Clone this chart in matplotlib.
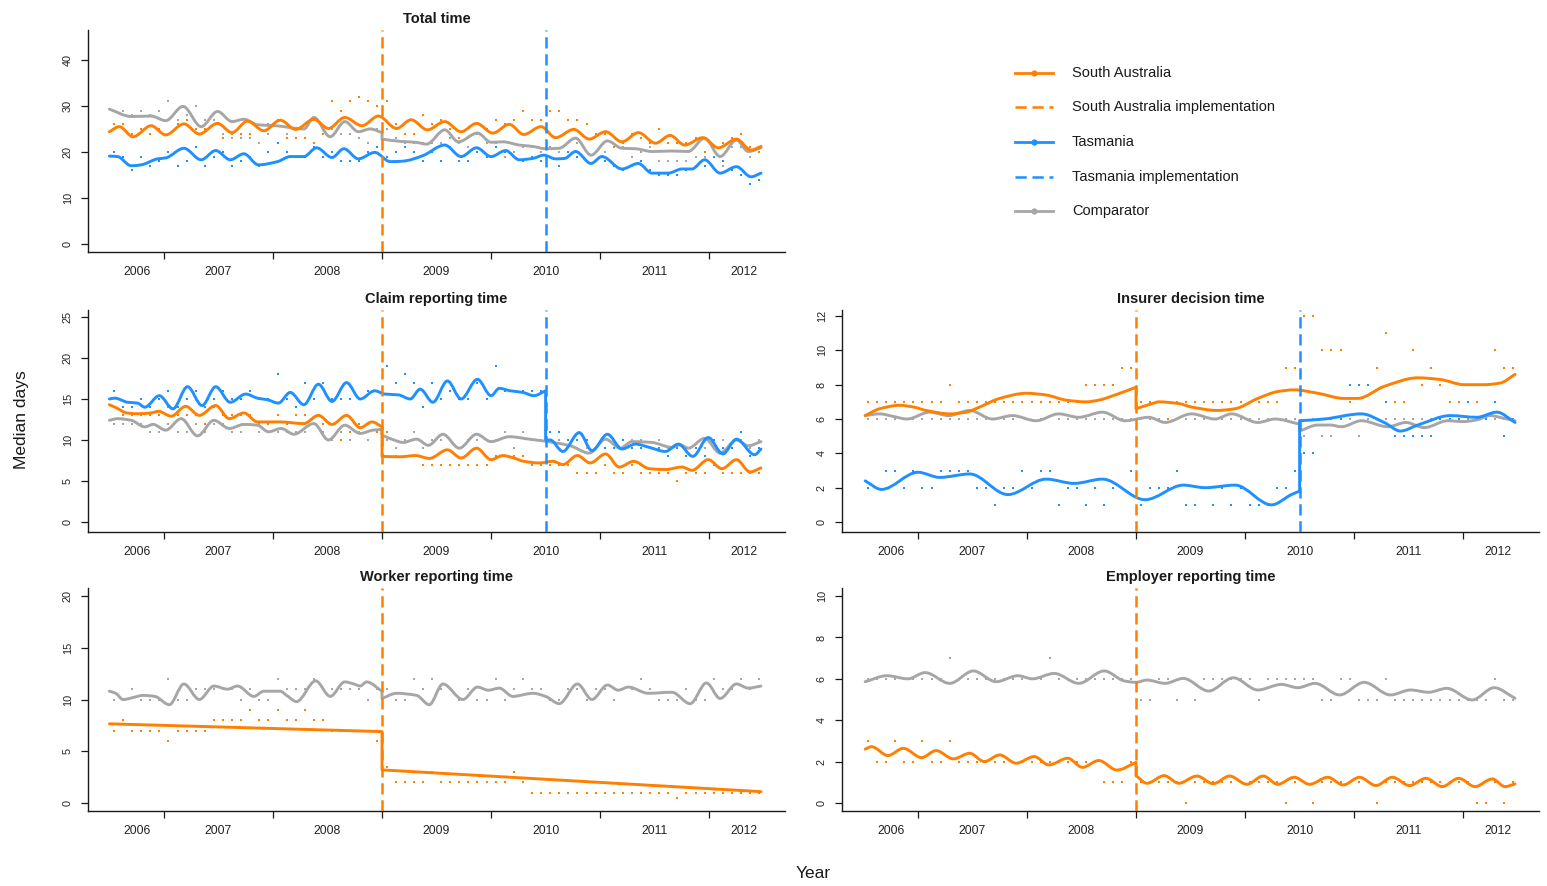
import numpy as np
import matplotlib
matplotlib.use('Agg')
import matplotlib.pyplot as plt
from matplotlib.path import Path
from matplotlib.patches import PathPatch

plt.rcParams['font.family'] = ['Liberation Sans', 'DejaVu Sans']

SA_COL = '#FF7F00'
TAS_COL = '#1E90FF'
CMP_COL = '#A6A6A6'

# monthly medians run Jul 2006 .. Jun 2012 (month 0 = Jul 2006)
n_months = 72
sa_impl = 2009.0
tas_impl = 2010.5
year_ticks = [2007, 2008, 2009, 2010, 2011, 2012]
year_labels = ['2006', '2007', '2008', '2009', '2010', '2011', '2012']
year_label_pos = [2006.75, 2007.5, 2008.5, 2009.5, 2010.5, 2011.5, 2012.32]

# ---- Total time ----
total_sa_dots = [26, 26, 24, 25, 24, 25, 24, 26, 27, 25, 25, 26,
                 23, 24, 24, 24, 25, 26, 27, 23, 23, 23, 22, 24,
                 31, 29, 31, 32, 31, 30, 31, 26, 24, 24, 28, 26,
                 27, 25, 23, 23, 26, 25, 27, 26, 27, 29, 27, 27,
                 29, 29, 27, 27, 26, 24, 24, 21, 22, 24, 23, 22,
                 25, 22, 22, 22, 23, 20, 21, 22, 23, 24, 21, 20]
total_tas_dots = [20, 19, 16, 19, 17, 18, 20, 17, 18, 21, 17, 19,
                  20, 17, 18, 19, 17, 20, 22, 20, 19, 19, 21, 19,
                  20, 18, 18, 18, 20, 21, 19, 20, 21, 20, 18, 20,
                  18, 21, 18, 18, 20, 19, 21, 20, 19, 18, 19, 18,
                  19, 17, 20, 19, 18, 20, 18, 17, 16, 17, 18, 16,
                  15, 15, 15, 16, 17, 17, 19, 18, 16, 15, 13, 14]
total_cmp_dots = [29, 29, 28, 29, 28, 29, 31, 27, 28, 30, 27, 27,
                  24, 23, 23, 23, 22, 24, 27, 24, 25, 26, 27, 24,
                  25, 24, 24, 23, 22, 25, 25, 23, 22, 22, 22, 22,
                  22, 23, 22, 21, 24, 22, 22, 19, 20, 21, 21, 20,
                  21, 20, 22, 22, 20, 20, 20, 17, 21, 19, 20, 21,
                  18, 18, 18, 18, 19, 19, 19, 17, 21, 21, 19, 21]

total_sa_m = [-0.5, 0.6, 2.1, 4.1, 5.7, 7.7, 9.4, 11.4, 13.0, 14.7, 16.5, 18.3, 20.0, 22.0,
              23.6, 25.4, 27.3, 29.1, 31.1, 32.7, 34.5, 36.4, 38.2, 39.9, 41.7, 43.5, 45.1,
              47.0, 48.6, 50.6, 52.3, 54.1, 55.9, 57.7, 59.6, 61.2, 62.8, 64.8, 66.5, 68.5,
              70.1, 71.2]
total_sa_v = [24.4, 25.5, 23.3, 25.7, 23.7, 26.1, 23.9, 26.2, 24.2, 26.7, 24.6, 26.9, 24.9, 27.1,
              25.1, 27.5, 25.7, 27.8, 25.1, 27.0, 24.8, 26.6, 24.4, 26.2, 24.1, 26.0, 23.8,
              25.5, 23.1, 24.9, 22.8, 24.4, 22.2, 24.2, 21.9, 23.6, 21.5, 23.1, 20.9, 22.8,
              20.4, 21.2]
total_tas_m = [-0.5, 0.4, 1.9, 3.0, 4.8, 5.7, 7.7, 9.6, 11.2, 12.8, 14.3, 15.9, 18.0, 19.4,
               20.9, 22.3, 24.0, 25.3, 26.9, 28.7, 30.4, 31.8, 34.0, 36.4, 38.2, 39.9, 41.5,
               43.1, 44.6, 46.1, 47.3, 48.6, 49.6, 50.8, 52.5, 53.7, 55.9, 57.7, 59.2, 61.0,
               62.5, 63.6, 65.0, 66.7, 68.5, 70.1, 71.2]
total_tas_v = [19.1, 19.0, 17.0, 17.2, 18.5, 18.7, 20.8, 18.3, 20.3, 18.3, 19.6, 17.2, 17.9, 19.0,
               19.0, 20.9, 18.8, 20.7, 18.5, 19.9, 17.9, 18.0, 19.2, 21.5, 19.0, 20.9, 19.0,
               20.3, 18.3, 18.6, 19.3, 18.5, 18.6, 20.1, 17.5, 19.0, 16.3, 17.5, 15.4, 15.4,
               16.3, 16.3, 18.3, 15.4, 16.8, 14.6, 15.4]
total_cmp_m = [-0.5, 1.9, 4.1, 5.7, 7.6, 9.6, 11.4, 13.0, 14.3, 15.8, 17.8, 20.9, 22.0, 23.8,
               25.4, 26.9, 28.2, 29.5, 29.5, 31.5, 33.2, 34.4, 36.4, 37.9, 40.0, 41.5, 42.8,
               44.6, 46.1, 47.5, 49.0, 50.8, 52.5, 54.3, 55.9, 57.4, 59.2, 61.4, 63.2, 65.0,
               66.7, 68.5, 69.8, 71.2]
total_cmp_v = [29.3, 27.7, 27.8, 26.8, 29.9, 25.5, 28.8, 26.6, 27.1, 25.9, 25.7, 25.0, 27.5, 23.3,
               26.6, 24.4, 25.0, 24.2, 22.8, 22.3, 22.1, 21.7, 24.8, 22.2, 24.1, 22.1, 22.2,
               21.5, 21.2, 20.7, 20.8, 23.0, 19.3, 22.4, 20.8, 20.7, 20.1, 20.2, 20.1, 23.0,
               19.0, 22.6, 20.1, 20.9]

# ---- Claim reporting time ----
claim_sa_dots = [14, 13, 13, 13, 13, 13, 14, 13, 13, 13, 12, 14,
                 13, 13, 13, 13, 12, 12, 13, 12, 13, 13, 12, 12,
                 12, 10, 11, 12, 12, 11, 11, 8, 8, 8, 7, 7,
                 7, 7, 7, 7, 7, 7, 8, 8, 8, 8, 7, 7,
                 7, 7, 7, 6, 6, 6, 7, 6, 6, 7, 6, 6,
                 6, 6, 5, 6, 6, 6, 7, 6, 6, 6, 6, 6]
claim_tas_dots = [16, 14, 14, 15, 14, 15, 16, 14, 15, 16, 14, 15,
                  16, 15, 15, 16, 15, 15, 18, 15, 14, 17, 15, 17,
                  15, 15, 15, 15, 16, 16, 19, 17, 18, 17, 14, 17,
                  15, 16, 15, 15, 17, 15, 19, 16, 16, 16, 16, 16,
                  11, 11, 10, 10, 10, 9, 9, 9, 10, 9, 9, 9,
                  9, 8, 9, 8, 9, 8, 10, 9, 9, 11, 8, 9]
claim_cmp_dots = [12, 12, 12, 12, 11, 11, 12, 11, 11, 12, 11, 12,
                  12, 11, 11, 12, 11, 11, 11, 11, 11, 11, 12, 11,
                  10, 11, 10, 11, 10, 11, 10, 9, 10, 11, 9, 10,
                  10, 10, 9, 10, 10, 10, 10, 11, 9, 11, 10, 10,
                  11, 10, 10, 9, 9, 9, 9, 10, 9, 10, 10, 9,
                  10, 9, 9, 9, 9, 9, 10, 10, 9, 10, 9, 10]

claim_sa_m = [-0.5, 0.3, 1.4, 2.6, 4.1, 4.9, 6.3, 7.9, 9.4, 11.2, 12.7, 14.3, 15.8, 18.3, 20.9,
              22.5, 24.0, 25.6, 27.1, 28.4, 29.5, 29.5, 31.5, 33.2, 34.7, 36.7, 38.2, 39.9,
              41.5, 42.8, 44.0, 45.1, 46.8, 48.3, 49.4, 51.0, 52.4, 54.1, 55.6, 57.2, 58.9,
              60.7, 62.5, 63.6, 65.4, 66.9, 68.5, 70.0, 71.2]
claim_sa_v = [14.3, 13.9, 13.3, 13.2, 13.3, 13.5, 12.9, 14.1, 13.0, 14.2, 12.6, 13.3, 12.2, 12.2,
              12.0, 13.0, 11.9, 13.0, 11.5, 12.2, 11.6, 8.0, 7.95, 8.1, 7.75, 8.8, 7.8, 9.0,
              7.6, 8.1, 7.8, 7.4, 7.2, 7.4, 7.0, 8.1, 7.2, 8.3, 6.7, 7.4, 6.5, 6.4, 6.7, 6.3,
              7.6, 6.5, 7.6, 6.1, 6.6]
claim_tas_m = [-0.5, 0.1, 1.5, 2.6, 3.4, 5.0, 6.5, 8.1, 9.7, 11.2, 12.8, 14.5, 15.8, 16.9, 18.1,
               19.4, 20.9, 22.5, 24.0, 25.6, 27.1, 28.7, 29.8, 31.3, 32.6, 33.7, 35.1, 36.7,
               38.2, 40.0, 41.5, 42.4, 43.6, 45.0, 46.2, 47.5, 47.5, 48.0, 49.4, 51.2, 52.6,
               54.3, 55.9, 57.4, 58.9, 60.7, 62.1, 63.7, 65.4, 67.0, 68.5, 70.5, 71.2]
claim_tas_v = [15.0, 15.1, 14.6, 14.5, 14.0, 15.4, 13.8, 16.5, 14.2, 16.5, 14.6, 15.6, 15.1,
               14.9, 14.5, 15.8, 14.3, 16.8, 14.7, 17.0, 15.0, 16.0, 15.6, 15.5, 15.0, 16.2,
               14.6, 17.2, 15.0, 17.4, 15.4, 16.3, 16.0, 15.8, 15.4, 16.0, 10.0, 10.0, 8.6,
               10.9, 8.7, 10.7, 8.9, 9.5, 9.1, 8.6, 9.5, 8.0, 10.3, 8.3, 10.1, 8.2, 8.9]
claim_cmp_m = [-0.5, 0.4, 1.9, 3.4, 4.3, 5.7, 7.4, 9.2, 11.0, 12.7, 14.3, 15.8, 17.0, 18.4,
               19.8, 22.0, 23.6, 25.4, 27.1, 28.5, 29.5, 29.5, 30.8, 31.8, 33.3, 34.6, 36.2,
               38.0, 39.9, 41.5, 43.5, 45.7, 47.1, 48.3, 50.2, 52.3, 54.1, 55.7, 57.0, 59.2,
               61.4, 62.3, 63.2, 65.0, 66.7, 68.5, 69.8, 71.2]
claim_cmp_v = [12.4, 12.6, 12.4, 11.6, 11.9, 11.2, 12.6, 10.5, 12.4, 11.4, 11.9, 11.8, 11.0,
               11.4, 10.7, 12.0, 10.0, 11.8, 10.8, 11.2, 11.3, 10.6, 10.0, 9.7, 10.1, 9.35,
               10.7, 9.0, 10.7, 9.8, 10.4, 10.1, 9.9, 9.7, 9.3, 8.4, 10.1, 9.0, 9.8, 9.7, 9.1,
               9.4, 9.0, 10.2, 8.4, 10.0, 9.3, 9.8]

# ---- Insurer decision time ----
insurer_sa_dots = [7, 7, 7, 7, 7, 7, 7, 7, 7, 8, 7, 7,
                   7, 7, 7, 7, 7, 7, 7, 7, 7, 7, 7, 7,
                   8, 8, 8, 8, 9, 9, 7, 7, 7, 6, 7, 7,
                   7, 7, 7, 7, 7, 7, 7, 7, 7, 7, 9, 9,
                   12, 12, 10, 10, 10, 7, 8, 8, 9, 11, 7, 7,
                   10, 8, 9, 8, 7, 7, 7, 7, 8, 10, 9, 9]
insurer_tas_dots = [2, 2, 3, 3, 2, 3, 2, 2, 3, 3, 3, 3,
                    2, 2, 1, 2, 2, 3, 2, 3, 3, 1, 2, 2,
                    1, 2, 1, 2, 2, 3, 1, 2, 2, 2, 3, 1,
                    1, 2, 1, 2, 1, 2, 1, 1, 1, 2, 2, 3,
                    4, 4, 6, 6, 6, 8, 8, 8, 6, 7, 5, 5,
                    5, 5, 5, 6, 6, 6, 7, 6, 6, 7, 5, 6]
insurer_cmp_dots = [6, 6, 6, 6, 6, 6, 6, 6, 6, 6, 6, 6,
                    6, 6, 6, 6, 6, 7, 7, 6, 7, 6, 6, 6,
                    6, 6, 6, 6, 6, 6, 6, 6, 6, 6, 6, 6,
                    6, 6, 6, 6, 6, 6, 6, 6, 6, 6, 6, 6,
                    5, 6, 5, 5, 6, 6, 5, 6, 6, 6, 6, 6,
                    6, 6, 6, 6, 6, 6, 6, 6, 6, 6, 6, 6]

insurer_sa_m = [-0.3, 1.3, 3.5, 5.0, 6.4, 9.0, 10.8, 12.3, 14.5, 17.4, 19.6, 21.8, 24.0, 25.4,
                27.2, 29.5, 29.5, 31.3, 32.0, 34.2, 35.6, 38.4, 40.4, 42.9, 45.1, 46.9, 49.5,
                52.4, 53.9, 56.8, 60.5, 63.0, 65.6, 67.8, 69.6, 71.2]
insurer_sa_v = [6.2, 6.6, 6.8, 6.7, 6.5, 6.3, 6.4, 6.7, 7.2, 7.5, 7.4, 7.1, 7.0, 7.1, 7.4, 7.85,
                6.6, 6.9, 7.0, 6.9, 6.7, 6.5, 6.6, 7.2, 7.6, 7.7, 7.5, 7.2, 7.2, 7.9, 8.4, 8.3,
                8.0, 8.0, 8.1, 8.6]
insurer_tas_m = [-0.3, 1.5, 5.5, 7.9, 11.2, 15.4, 19.6, 22.7, 25.8, 30.5, 34.7, 37.1, 40.4,
                 44.4, 46.6, 47.5, 47.5, 50.2, 54.3, 56.8, 58.6, 60.5, 64.1, 67.0, 69.2, 71.2]
insurer_tas_v = [2.4, 1.9, 2.9, 2.6, 2.8, 1.6, 2.5, 2.25, 2.5, 1.3, 2.15, 2.0, 2.15, 1.0, 1.6,
                 1.8, 5.9, 6.0, 6.3, 5.8, 5.3, 5.65, 6.2, 6.1, 6.4, 5.8]
insurer_cmp_m = [-0.3, 1.3, 2.8, 4.3, 6.8, 8.9, 11.2, 13.7, 15.9, 18.5, 21.0, 23.2, 25.8, 28.3,
                 30.9, 32.7, 35.6, 38.2, 40.0, 42.9, 44.8, 47.5, 47.5, 49.5, 50.9, 52.1, 54.3,
                 57.2, 59.2, 61.2, 63.8, 65.5, 67.0, 68.5, 69.9, 71.2]
insurer_cmp_v = [6.2, 6.3, 6.15, 6.0, 6.4, 6.2, 6.5, 6.0, 6.2, 5.9, 6.3, 6.1, 6.4, 5.9, 6.1,
                 5.8, 6.3, 6.0, 6.3, 5.8, 6.0, 5.7, 5.3, 5.65, 5.65, 5.55, 5.9, 5.55, 5.8, 5.5,
                 5.9, 5.85, 5.95, 6.2, 6.05, 5.9]

# ---- Worker reporting time ----
worker_sa_dots = [7, 8, 7, 7, 7, 7, 6, 7, 7, 7, 7, 8,
                  8, 8, 8, 9, 8, 8, 9, 8, 8, 9, 8, 8,
                  7, 7, 7, 7, 7, 6, 3.5, 2, 2, 2, 2, 3,
                  2, 2, 2, 2, 2, 2, 2, 2, 3, 2, 1, 1,
                  1, 1, 1, 1, 1, 1, 1, 1, 1, 1, 1, 1,
                  1, 1, 0.5, 1, 1, 1, 1, 1, 1, 1, 1, 1]
worker_cmp_dots = [10, 10, 11, 10, 10, 10, 12, 10, 10, 11, 11, 11,
                   11, 11, 10, 11, 10, 10, 12, 11, 11, 11, 12, 11,
                   11, 11, 11, 11, 10, 11, 11, 10, 10, 12, 11, 12,
                   11, 11, 10, 11, 10, 10, 12, 10, 11, 12, 11, 11,
                   10, 10, 11, 11, 10, 11, 11, 10, 11, 11, 12, 11,
                   10, 10, 10, 11, 10, 10, 12, 11, 11, 12, 11, 12]

worker_sa_m = [-0.5, 29.5, 29.5, 71.2]
worker_sa_v = [7.65, 6.9, 3.2, 1.1]
worker_cmp_m = [-0.5, 0.2, 1.0, 2.6, 3.2, 4.5, 6.1, 7.7, 9.4, 11.0, 12.5, 13.6, 15.4, 16.5,
                18.3, 19.0, 20.1, 22.2, 23.8, 25.4, 26.4, 27.1, 27.8, 29.5, 29.5, 31.1, 33.3,
                34.7, 36.2, 38.4, 40.0, 41.2, 42.4, 43.9, 46.1, 47.5, 49.0, 51.0, 52.6, 54.3,
                55.5, 56.6, 58.8, 61.4, 63.4, 65.2, 66.7, 68.5, 69.8, 71.2]
worker_cmp_v = [10.8, 10.6, 10.0, 10.3, 10.4, 10.3, 9.5, 11.5, 10.0, 11.3, 11.0, 11.3, 10.3,
                10.8, 10.8, 10.4, 9.8, 11.8, 10.3, 11.7, 11.5, 11.3, 11.7, 10.8, 10.1, 10.6,
                10.4, 9.5, 11.5, 10.0, 11.2, 10.9, 11.1, 10.3, 10.6, 10.3, 9.6, 11.5, 10.0,
                11.4, 10.9, 11.2, 10.6, 10.7, 9.6, 11.6, 10.1, 11.5, 11.1, 11.3]

# ---- Employer reporting time ----
employer_sa_dots = [3, 2, 2, 3, 2, 2, 3, 2, 2, 3, 2, 2,
                    2, 2, 2, 2, 2, 2, 2, 2, 2, 2, 2, 2,
                    2, 2, 1, 1, 1, 2, 1, 1, 1, 1, 1, 0,
                    1, 1, 1, 1, 1, 1, 1, 1, 1, 1, 0, 1,
                    1, 0, 1, 1, 1, 1, 1, 1, 0, 1, 1, 1,
                    1, 1, 1, 1, 1, 1, 1, 0, 0, 1, 0, 1]
employer_cmp_dots = [6, 6, 6, 6, 6, 6, 6, 6, 6, 7, 6, 6,
                     6, 6, 6, 6, 6, 6, 6, 6, 7, 6, 6, 6,
                     6, 6, 6, 6, 6, 6, 5, 5, 6, 6, 5, 6,
                     5, 6, 6, 6, 6, 6, 6, 5, 6, 6, 6, 6,
                     6, 6, 5, 5, 6, 6, 5, 5, 5, 6, 5, 5,
                     5, 5, 5, 5, 5, 5, 5, 5, 5, 6, 5, 5]

employer_sa_m = [-0.3, 0.4, 2.2, 3.9, 5.9, 7.5, 9.4, 11.2, 12.8, 14.5, 16.3, 18.3, 19.9, 22.0,
                 23.6, 25.4, 27.4, 29.5, 29.5, 30.7, 32.6, 34.2, 36.2, 38.0, 39.8, 41.7, 43.5,
                 45.1, 46.9, 48.6, 50.6, 52.3, 54.1, 55.9, 57.7, 59.6, 61.4, 63.2, 65.0, 66.8,
                 68.7, 70.1, 71.2]
employer_sa_v = [2.6, 2.72, 2.29, 2.64, 2.19, 2.53, 2.13, 2.4, 2.0, 2.32, 1.92, 2.24, 1.84, 2.16,
                 1.72, 2.05, 1.59, 1.96, 1.32, 0.95, 1.32, 0.95, 1.3, 0.93, 1.3, 0.9, 1.3, 0.9,
                 1.24, 0.9, 1.24, 0.87, 1.24, 0.84, 1.24, 0.84, 1.19, 0.79, 1.19, 0.79, 1.16,
                 0.79, 0.92]
employer_cmp_m = [-0.3, 2.1, 4.4, 6.3, 9.0, 11.6, 14.1, 16.5, 18.1, 20.5, 23.2, 26.0, 28.2, 29.5,
                  30.7, 32.7, 34.7, 37.5, 40.2, 42.9, 45.5, 47.3, 49.2, 51.9, 54.6, 57.5, 59.7,
                  61.7, 63.7, 66.5, 68.9, 71.2]
employer_cmp_v = [5.86, 6.15, 6.0, 6.3, 5.78, 6.38, 5.86, 6.15, 6.0, 6.26, 5.78, 6.38, 5.9,
                  5.83, 5.94, 5.78, 6.02, 5.41, 6.05, 5.46, 5.73, 5.57, 5.78, 5.22, 5.83, 5.22,
                  5.46, 5.35, 5.54, 4.98, 5.57, 5.06]


def month_pos(m):
    return 2006.5 + (np.asarray(m, dtype=float) + 0.5) / 12


def smooth_path(months, values):
    # bezier curve through the fitted points; a repeated month marks a step change
    x = month_pos(months)
    y = np.asarray(values, dtype=float)
    cuts = np.where(np.diff(x) == 0)[0] + 1
    verts, codes = [], []
    for px, py in zip(np.split(x, cuts), np.split(y, cuts)):
        codes.append(Path.LINETO if verts else Path.MOVETO)
        verts.append((px[0], py[0]))
        if len(px) < 2:
            continue
        d = np.diff(py) / np.diff(px)
        t = np.zeros(len(px))
        t[0], t[-1] = d[0], d[-1]
        for i in range(1, len(px) - 1):
            if d[i - 1] * d[i] > 0:
                t[i] = 2.0 / (1.0 / d[i - 1] + 1.0 / d[i])
        for i in range(len(px) - 1):
            h = (px[i + 1] - px[i]) / 3.0
            verts += [(px[i] + h, py[i] + t[i] * h),
                      (px[i + 1] - h, py[i + 1] - t[i + 1] * h),
                      (px[i + 1], py[i + 1])]
            codes += [Path.CURVE4] * 3
    return Path(verts, codes)


def draw_series(ax, dots, months, values, colour):
    ax.plot(month_pos(np.arange(n_months)), dots, ls='none', marker='s', ms=1.9,
            mew=0, color=colour, zorder=2)
    ax.add_patch(PathPatch(smooth_path(months, values), fill=False, edgecolor=colour,
                           lw=2.1, zorder=3, capstyle='round', joinstyle='round'))


def style_axes(ax, title, ylim, yticks):
    ax.set_xlim(2006.304, 2012.695)
    ax.set_ylim(*ylim)
    for side in ('top', 'right'):
        ax.spines[side].set_visible(False)
    for side in ('left', 'bottom'):
        ax.spines[side].set_linewidth(1.0)
        ax.spines[side].set_color('#1a1a1a')
    ax.set_yticks(yticks)
    ax.set_yticklabels([str(t) for t in yticks], rotation=90, va='center')
    ax.tick_params(axis='y', length=5, width=0.9, pad=6, labelsize=7.8, color='#1a1a1a',
                   labelcolor='#222222')
    ax.set_xticks(year_ticks)
    ax.set_xticklabels([])
    ax.set_xticks(year_label_pos, minor=True)
    ax.set_xticklabels(year_labels, minor=True)
    ax.tick_params(axis='x', which='major', length=5, width=0.9, color='#1a1a1a')
    ax.tick_params(axis='x', which='minor', length=0, pad=10, labelsize=8.8,
                   labelcolor='#222222')
    ax.set_title(title, fontsize=10.5, fontweight='bold', pad=5, color='#1a1a1a')


W, H = 1547, 886
fig = plt.figure(figsize=(W / 100, H / 100), dpi=100)


def px_axes(left, top, right, bottom):
    return fig.add_axes([left / W, 1 - bottom / H, (right - left) / W, (bottom - top) / H])


dash = (0, (4.5, 2.3))

ax = px_axes(88, 30, 785, 252)
style_axes(ax, 'Total time', (-1.74, 46.5), [0, 10, 20, 30, 40])
draw_series(ax, total_cmp_dots, total_cmp_m, total_cmp_v, CMP_COL)
draw_series(ax, total_sa_dots, total_sa_m, total_sa_v, SA_COL)
draw_series(ax, total_tas_dots, total_tas_m, total_tas_v, TAS_COL)
ax.axvline(sa_impl, color=SA_COL, lw=1.8, ls=dash, zorder=4)
ax.axvline(tas_impl, color=TAS_COL, lw=1.8, ls=dash, zorder=4)

ax = px_axes(88, 310, 785, 532)
style_axes(ax, 'Claim reporting time', (-1.22, 25.85), [0, 5, 10, 15, 20, 25])
draw_series(ax, claim_cmp_dots, claim_cmp_m, claim_cmp_v, CMP_COL)
draw_series(ax, claim_sa_dots, claim_sa_m, claim_sa_v, SA_COL)
draw_series(ax, claim_tas_dots, claim_tas_m, claim_tas_v, TAS_COL)
ax.axvline(sa_impl, color=SA_COL, lw=1.8, ls=dash, zorder=4)
ax.axvline(tas_impl, color=TAS_COL, lw=1.8, ls=dash, zorder=4)

ax = px_axes(842, 310, 1539, 532)
style_axes(ax, 'Insurer decision time', (-0.58, 12.35), [0, 2, 4, 6, 8, 10, 12])
draw_series(ax, insurer_cmp_dots, insurer_cmp_m, insurer_cmp_v, CMP_COL)
draw_series(ax, insurer_sa_dots, insurer_sa_m, insurer_sa_v, SA_COL)
draw_series(ax, insurer_tas_dots, insurer_tas_m, insurer_tas_v, TAS_COL)
ax.axvline(sa_impl, color=SA_COL, lw=1.8, ls=dash, zorder=4)
ax.axvline(tas_impl, color=TAS_COL, lw=1.8, ls=dash, zorder=4)

ax = px_axes(88, 588, 785, 811)
style_axes(ax, 'Worker reporting time', (-0.77, 20.77), [0, 5, 10, 15, 20])
draw_series(ax, worker_cmp_dots, worker_cmp_m, worker_cmp_v, CMP_COL)
draw_series(ax, worker_sa_dots, worker_sa_m, worker_sa_v, SA_COL)
ax.axvline(sa_impl, color=SA_COL, lw=1.8, ls=dash, zorder=4)

ax = px_axes(842, 588, 1539, 811)
style_axes(ax, 'Employer reporting time', (-0.39, 10.39), [0, 2, 4, 6, 8, 10])
draw_series(ax, employer_cmp_dots, employer_cmp_m, employer_cmp_v, CMP_COL)
draw_series(ax, employer_sa_dots, employer_sa_m, employer_sa_v, SA_COL)
ax.axvline(sa_impl, color=SA_COL, lw=1.8, ls=dash, zorder=4)

fig.text(22 / W, 1 - 420 / H, 'Median days', rotation=90, ha='center', va='center',
         fontsize=12.5, color='#1a1a1a')
fig.text(813 / W, 1 - 873 / H, 'Year', ha='center', va='center', fontsize=12.5,
         color='#1a1a1a')

# legend, laid out in pixel units on a blank overlay
leg = fig.add_axes([0, 0, 1, 1])
leg.set_xlim(0, W)
leg.set_ylim(H, 0)
leg.axis('off')
legend_rows = [('South Australia', SA_COL, '-'),
               ('South Australia implementation', SA_COL, dash),
               ('Tasmania', TAS_COL, '-'),
               ('Tasmania implementation', TAS_COL, dash),
               ('Comparator', CMP_COL, '-')]
for i, (label, colour, style) in enumerate(legend_rows):
    y = 72.5 + i * 34.7
    leg.plot([1015, 1053], [y, y], color=colour, lw=1.8 if style != '-' else 2.0, ls=style)
    if style == '-':
        leg.plot([1034], [y], marker='o', ms=4.5, color=colour, mew=0)
    leg.text(1072, y, label, va='center', ha='left', fontsize=10.5, color='#1a1a1a')

fig.savefig('out.png', dpi=100)
